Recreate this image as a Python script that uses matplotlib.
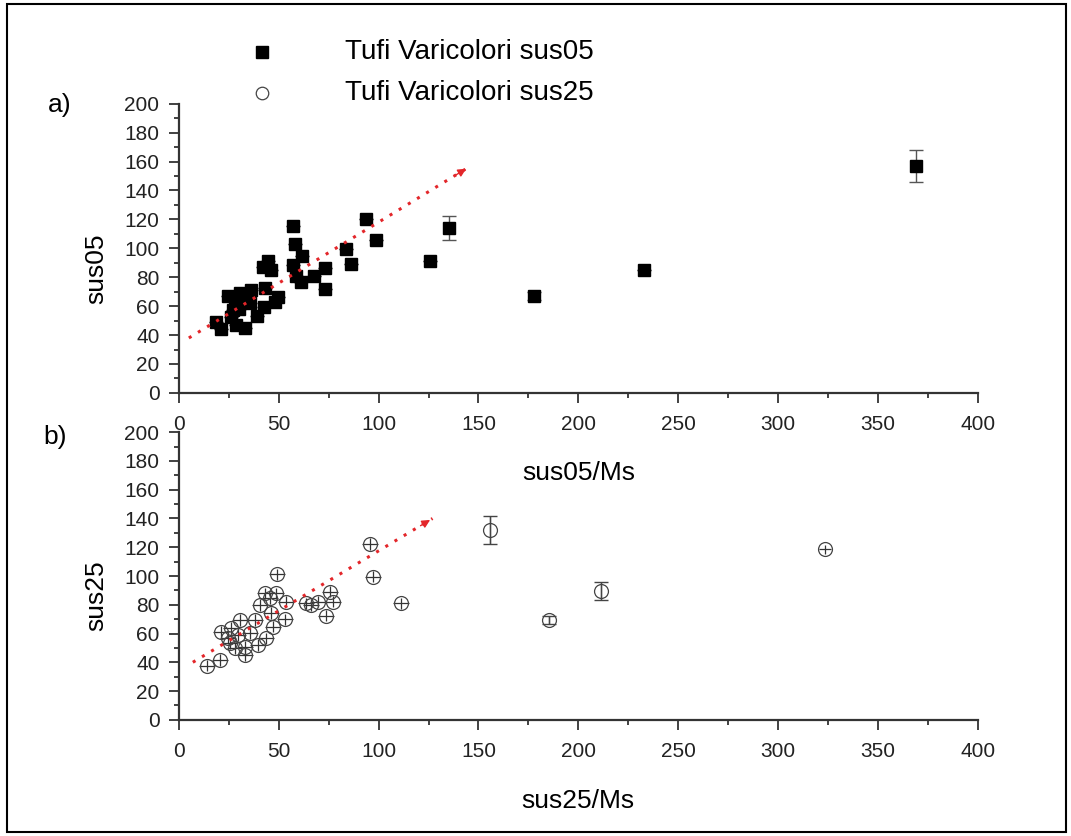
# Susceptibility vs normalised susceptibility, Tufi Varicolori

import numpy as np
import matplotlib.pyplot as plt
from matplotlib.patches import Rectangle
from matplotlib.lines import Line2D
from matplotlib.ticker import MultipleLocator

plt.rcParams['font.family'] = ['Liberation Sans', 'DejaVu Sans']

# ------ Données ------

# a) sus05 vs sus05/Ms
x05 = [18.8, 21.3, 24.7, 27.2, 26.3, 28.8, 30.5, 33.0, 35.5, 36.3, 33.0, 39.2,
       43.0, 42.5, 42.2, 44.7, 46.3, 48.0, 49.7, 57.2, 58.0, 57.2, 61.7, 58.8,
       61.3, 67.5, 73.0, 73.0, 83.8, 86.3, 93.8, 98.8, 125.8, 28.0, 31.0, 30.0,
       135.0, 178.0, 233.0, 369.0]
y05 = [48.9, 44.1, 67.3, 57.4, 52.8, 47.1, 69.0, 44.8, 62.1, 71.3, 65.5, 53.5,
       72.5, 59.7, 87.4, 90.9, 85.1, 62.8, 66.2, 115.6, 103.1, 88.6, 94.8, 80.5,
       76.6, 80.5, 86.7, 71.8, 99.4, 89.1, 120.4, 105.4, 90.9, 64.0, 66.0, 58.0,
       114.0, 67.0, 85.0, 157.0]
yerr05 = [0] * 36 + [8, 3, 0, 11]

# b) sus25 vs sus25/Ms
x25 = [14.3, 20.5, 21.3, 24.7, 26.3, 25.5, 28.0, 30.5, 29.7, 33.0, 33.0, 35.5,
       38.0, 39.7, 40.5, 43.0, 43.8, 45.5, 46.3, 47.2, 48.8, 49.2, 53.0, 53.8,
       63.8, 66.3, 69.7, 73.8, 75.5, 77.2, 95.5, 97.2, 111.3,
       156.0, 185.5, 211.5, 323.5]
y25 = [37.7, 41.7, 60.9, 56.7, 63.7, 53.2, 49.8, 69.4, 59.0, 45.1, 50.9, 60.2,
       69.4, 52.1, 79.9, 88.0, 56.7, 84.5, 74.1, 64.8, 88.0, 101.2, 69.9, 82.2,
       81.0, 79.9, 82.2, 72.5, 89.1, 82.2, 122.2, 99.5, 81.0,
       132.0, 69.4, 89.6, 118.5]
xerr25 = [4] * 33 + [0, 0, 0, 3]
yerr25 = [4] * 33 + [10, 3, 6, 3]

# flèches de tendance (début, fin)
trend_a = [(5, 38), (145, 156)]
trend_b = [(7, 40), (127, 140)]

labels = ['Tufi Varicolori sus05', 'Tufi Varicolori sus25']


# ------ Fonctions ------

def style_axes(ax):
    ax.set_xlim(0, 400)
    ax.set_ylim(0, 200)
    ax.patch.set_visible(False)
    ax.spines['top'].set_visible(False)
    ax.spines['right'].set_visible(False)
    ax.xaxis.set_major_locator(MultipleLocator(50))
    ax.xaxis.set_minor_locator(MultipleLocator(25))
    ax.yaxis.set_major_locator(MultipleLocator(20))
    ax.yaxis.set_minor_locator(MultipleLocator(10))
    ax.tick_params(which='major', direction='out', length=7, width=1.3,
                   labelsize=15, color='#333333', labelcolor='#222222')
    ax.tick_params(axis='x', which='major', pad=9)
    ax.tick_params(axis='y', which='major', pad=7)
    ax.tick_params(which='minor', direction='out', length=3.6, width=1.3, color='#333333')
    for s in ['left', 'bottom']:
        ax.spines[s].set_linewidth(1.6)
        ax.spines[s].set_color('#333333')


def trend_arrow(ax, seg):
    (x0, y0), (x1, y1) = seg
    ax.plot([x0, x1], [y0, y1], ls=(0, (1, 2.5)), color='#e3262a', lw=2.2)
    ax.annotate('', xy=(x1, y1), xytext=(x1 - (x1 - x0) * 0.06, y1 - (y1 - y0) * 0.06),
                arrowprops=dict(arrowstyle='-|>', color='#e3262a', lw=1, mutation_scale=12))


# ------ Graphique ------

fig = plt.figure(figsize=(10.71, 8.36), dpi=100)
fig.patches.append(Rectangle((0.007, 0.005), 0.988, 0.99, transform=fig.transFigure,
                             fill=False, ec='black', lw=1.5))

ax1 = fig.add_axes([0.167, 0.530, 0.746, 0.346])
ax2 = fig.add_axes([0.167, 0.139, 0.746, 0.344])

# a)
ax1.errorbar(x05, y05, yerr=yerr05, fmt='none', ecolor='#555555', elinewidth=1, capsize=5)
ax1.plot(x05, y05, 's', color='black', ms=9, ls='none')
trend_arrow(ax1, trend_a)
style_axes(ax1)
ax1.set_xlabel('sus05/Ms', fontsize=19, labelpad=19)
ax1.set_ylabel('sus05', fontsize=19)
ax1.yaxis.set_label_coords(-0.088, 0.43)

# b)
ax2.errorbar(x25, y25, xerr=xerr25, yerr=yerr25, fmt='none', ecolor='#333333', elinewidth=0.9, capsize=0)
ax2.errorbar(x25[33:36], y25[33:36], yerr=yerr25[33:36], fmt='none', ecolor='#444444', elinewidth=1, capsize=5)
ax2.plot(x25, y25, 'o', mfc='none', mec='#444444', mew=0.9, ms=10, ls='none')
trend_arrow(ax2, trend_b)
style_axes(ax2)
ax2.set_xlabel('sus25/Ms', fontsize=19, labelpad=20)
ax2.set_ylabel('sus25', fontsize=19)
ax2.yaxis.set_label_coords(-0.088, 0.43)

fig.text(0.045, 0.874, 'a)', fontsize=19, va='center')
fig.text(0.040, 0.477, 'b)', fontsize=19, va='center')

# légende
fig.add_artist(Line2D([0.2446], [0.938], transform=fig.transFigure, marker='s',
                      color='black', ms=8.5, ls='none'))
fig.add_artist(Line2D([0.2446], [0.889], transform=fig.transFigure, marker='o',
                      mfc='none', mec='#444444', mew=0.9, ms=9, ls='none'))
fig.text(0.322, 0.938, labels[0], fontsize=20, va='center')
fig.text(0.322, 0.889, labels[1], fontsize=20, va='center')

fig.savefig('out.png', dpi=100)
